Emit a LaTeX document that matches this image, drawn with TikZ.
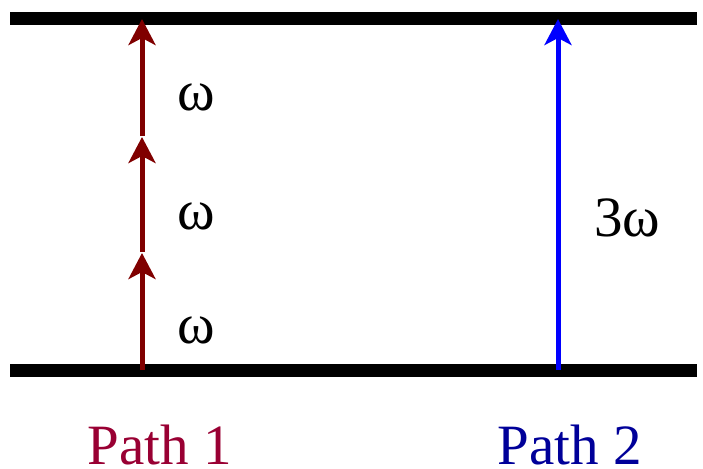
\documentclass[tikz,border=0pt]{standalone}
\usepackage{fontspec}
\setmainfont{Liberation Serif}
\usetikzlibrary{arrows.meta}
\definecolor{arrred}{HTML}{800000}
\definecolor{pathone}{HTML}{990033}
\definecolor{pathtwo}{HTML}{000099}
\begin{document}
\begin{tikzpicture}[x=1pt,y=-1pt,
  levelline/.style={line width=13pt},
  photon/.style={line width=5pt,-{Stealth[length=26pt,width=27pt,inset=7pt]}},
  lbl/.style={font=\fontsize{57}{64}\selectfont, inner sep=0pt}]
\useasboundingbox (0,0) rectangle (703,468);
% levels
\coordinate (tl) at (10,19);
\coordinate (tr) at (697,19);
\coordinate (bl) at (10,370);
\coordinate (br) at (697,370);
\draw[levelline] (tl) -- (tr);
\draw[levelline] (bl) -- (br);
% path 1
\coordinate (a0) at (142,370);
\coordinate (a1) at (142,253);
\coordinate (a1s) at (142,252);
\coordinate (a2) at (142,137);
\coordinate (a2s) at (142,136);
\coordinate (a3) at (142,19);
\draw[photon,arrred] (a0) -- (a1);
\draw[photon,arrred] (a1s) -- (a2);
\draw[photon,arrred] (a2s) -- (a3);
% path 2
\coordinate (b0) at (558,370);
\coordinate (b1) at (558,19);
\draw[photon,blue] (b0) -- (b1);
% labels
\node[lbl] (w1) at (196,97) {ω};
\node[lbl] (w2) at (196,216) {ω};
\node[lbl] (w3) at (196,330) {ω};
\node[lbl] (w4) at (627,218) {3ω};
\node[lbl,anchor=base,text=pathone] (p1) at (160,464) {Path 1};
\node[lbl,anchor=base,text=pathtwo] (p2) at (570,464) {Path 2};
\end{tikzpicture}
\end{document}
